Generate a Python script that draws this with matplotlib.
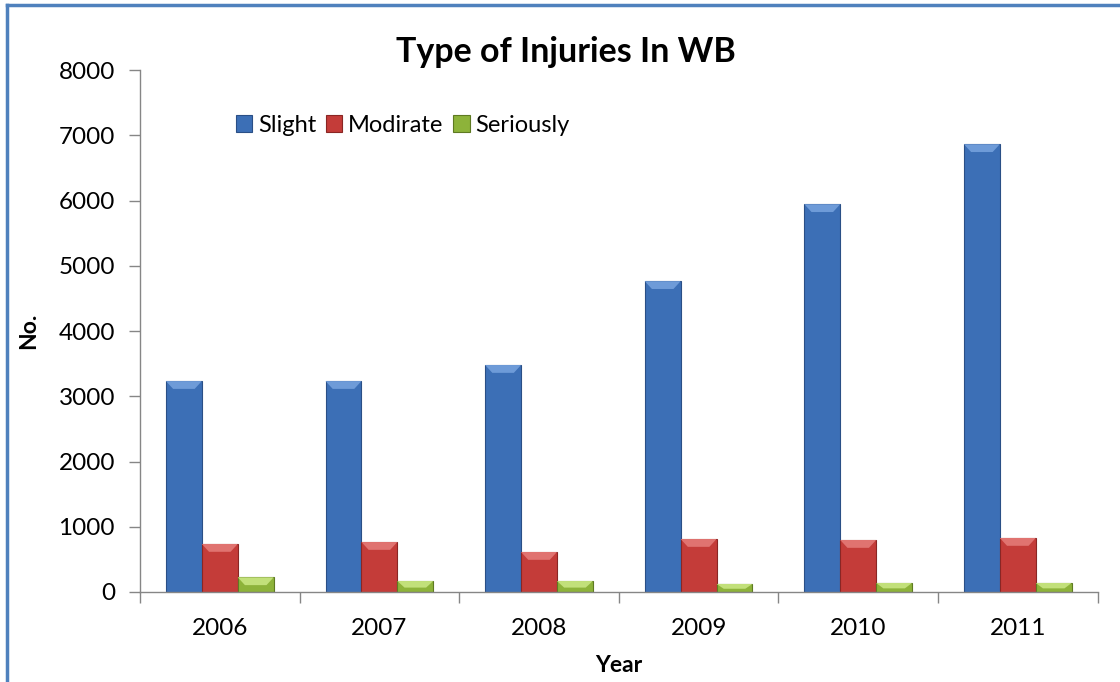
import numpy as np
import matplotlib
matplotlib.use("Agg")
import matplotlib.pyplot as plt
from matplotlib.patches import Polygon
from matplotlib.lines import Line2D

# Data
years = ["2006", "2007", "2008", "2009", "2010", "2011"]
slight = [3234, 3234, 3480, 4766, 5946, 6866]
modirate = [736, 766, 613, 812, 797, 828]
seriously = [225, 168, 168, 123, 138, 138]

series = [
    ("Slight", slight, "#3C6FB6", "#2A4F86", "#6E9BD8"),
    ("Modirate", modirate, "#C43C39", "#8A2624", "#E07370"),
    ("Seriously", seriously, "#8DB33A", "#5E7A22", "#C2E07A"),
]

plt.rcParams['font.family'] = ['Lato', 'DejaVu Sans']

fig = plt.figure(figsize=(11.2, 6.82), dpi=100)
ax = fig.add_axes([0.125, 0.132, 0.855, 0.765])

x = np.arange(len(years))
w = 0.225
for i, (name, vals, col, edge, light) in enumerate(series):
    bars = ax.bar(x + (i - 1) * w, vals, w, color=col, edgecolor=edge,
                  linewidth=0.8, label=name, zorder=2)
    # simple bevel on top of each bar
    for b in bars:
        x0, bw, h = b.get_x(), b.get_width(), b.get_height()
        d = min(120, h * 0.6)
        inset = bw * 0.2
        ax.add_patch(Polygon([(x0, h), (x0 + bw, h), (x0 + bw - inset, h - d),
                              (x0 + inset, h - d)], closed=True,
                             facecolor=light, edgecolor='none', zorder=3))

ax.set_xlim(-0.5, 5.5)
ax.set_ylim(0, 8000)
ax.set_yticks(range(0, 8001, 1000))
ax.set_xticks(x)
ax.set_xticklabels(years)
ax.set_xticks(np.arange(-0.5, 6, 1), minor=True)
ax.tick_params(axis='x', which='major', length=0, pad=26, labelsize=17.5)
ax.tick_params(axis='x', which='minor', length=8, color='#868686', width=1)
ax.tick_params(axis='y', length=8, color='#868686', width=1, pad=10, labelsize=17.5)
for lbl in ax.get_xticklabels():
    lbl.set_va('center')

for s in ['top', 'right']:
    ax.spines[s].set_visible(False)
for s in ['left', 'bottom']:
    ax.spines[s].set_color('#868686')
    ax.spines[s].set_linewidth(1)

fig.text(566 / 1120, 1 - 52 / 682, "Type of Injuries In WB", fontsize=24.5,
         fontweight='bold', ha='center', va='center')
ax.set_ylabel("No.", fontsize=16.5, fontweight='bold', labelpad=14)
ax.set_xlabel("Year", fontsize=16.5, fontweight='bold', labelpad=12)

ax.legend(loc='center left', bbox_to_anchor=(0.09, 0.895), ncol=3, frameon=False,
          fontsize=17, handlelength=0.7, handleheight=0.7, handletextpad=0.25,
          columnspacing=0.4, borderaxespad=0)

# blue chart border (left and top edges visible)
bc = '#4F81BD'
fig.add_artist(Line2D([7 / 1120, 7 / 1120], [0, 1 - 5 / 682], color=bc, linewidth=2.5))
fig.add_artist(Line2D([7 / 1120, 1], [1 - 5 / 682, 1 - 5 / 682], color=bc, linewidth=2.5))

fig.savefig("out.png", dpi=100)
